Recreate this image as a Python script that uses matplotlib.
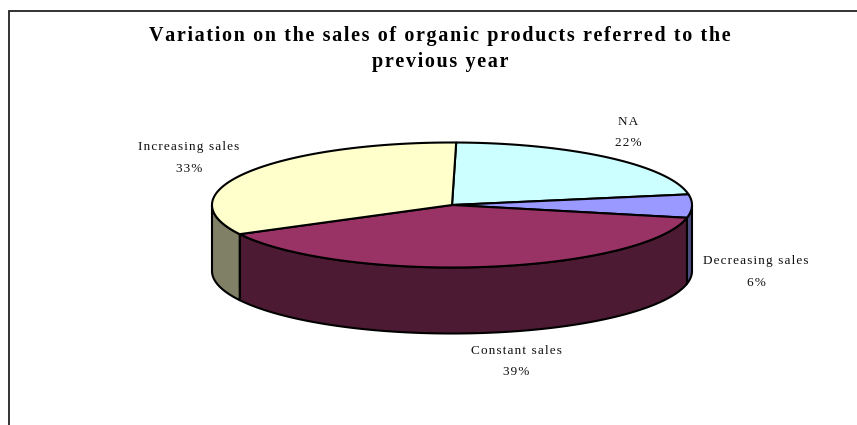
import numpy as np
import matplotlib
matplotlib.use("Agg")
import matplotlib.pyplot as plt
from matplotlib.patches import Polygon

labels = ["NA", "Decreasing sales", "Constant sales", "Increasing sales"]
shares = [22, 6, 39, 33]
colors = ["#CCFFFF", "#9999FF", "#993366", "#FFFFCC"]
side_colors = ["#668080", "#4D4D80", "#4D1A33", "#808066"]
label_pos = [(628, 132.5), (756, 272), (516, 361.5), (189, 158)]

title_lines = ["Variation on the sales of organic products referred to the", "previous year"]

# ellipse of the pie in pixels
cx, cy = 452, 205
rx, ry = 240, 62.5
depth = 66
start = 1.0

plt.rcParams["font.family"] = ["Liberation Serif", "DejaVu Serif"]

fig = plt.figure(figsize=(8.57, 4.25), dpi=100)
ax = fig.add_axes([0, 0, 1, 1])
ax.set_xlim(0, 857)
ax.set_ylim(425, 0)
ax.axis("off")

# frame, open at the bottom
ax.plot([9, 9, 857], [425, 11, 11], color="#222222", lw=1.3, solid_joinstyle="miter")


def rim(a0, a1, dy=0):
    t = np.radians(np.linspace(a0, a1, 120))
    return np.column_stack([cx + rx * np.sin(t), cy - ry * np.cos(t) + dy])


def spaced(s):
    # the reference text is tracked wide, hair spaces do that
    return "\u200a".join(s)


edges = start + np.cumsum([0] + shares) * 3.6
for i in range(len(shares)):
    a0, a1 = edges[i], edges[i + 1]
    # front wall only between 90 and 270 degrees (clockwise from the top)
    w0, w1 = max(a0, 90), min(a1, 270)
    if w1 > w0:
        wall = np.vstack([rim(w0, w1), rim(w0, w1, depth)[::-1]])
        ax.add_patch(Polygon(wall, closed=True, fc=side_colors[i], ec="black", lw=1.5, joinstyle="round"))

for i in range(len(shares)):
    top = np.vstack([[cx, cy], rim(edges[i], edges[i + 1])])
    ax.add_patch(Polygon(top, closed=True, fc=colors[i], ec="black", lw=1.5, joinstyle="round"))

ax.text(440, 49, "\n".join(spaced(t) for t in title_lines), ha="center", va="center", fontsize=14.5,
        fontweight="bold", color="black", linespacing=1.4)

for name, share, (x, y) in zip(labels, shares, label_pos):
    ax.text(x, y, f"{spaced(name)}\n{spaced(str(share) + '%')}", ha="center", va="center", fontsize=9.5,
            color="#111111", linespacing=2.1)

fig.savefig("out.png", dpi=100)
